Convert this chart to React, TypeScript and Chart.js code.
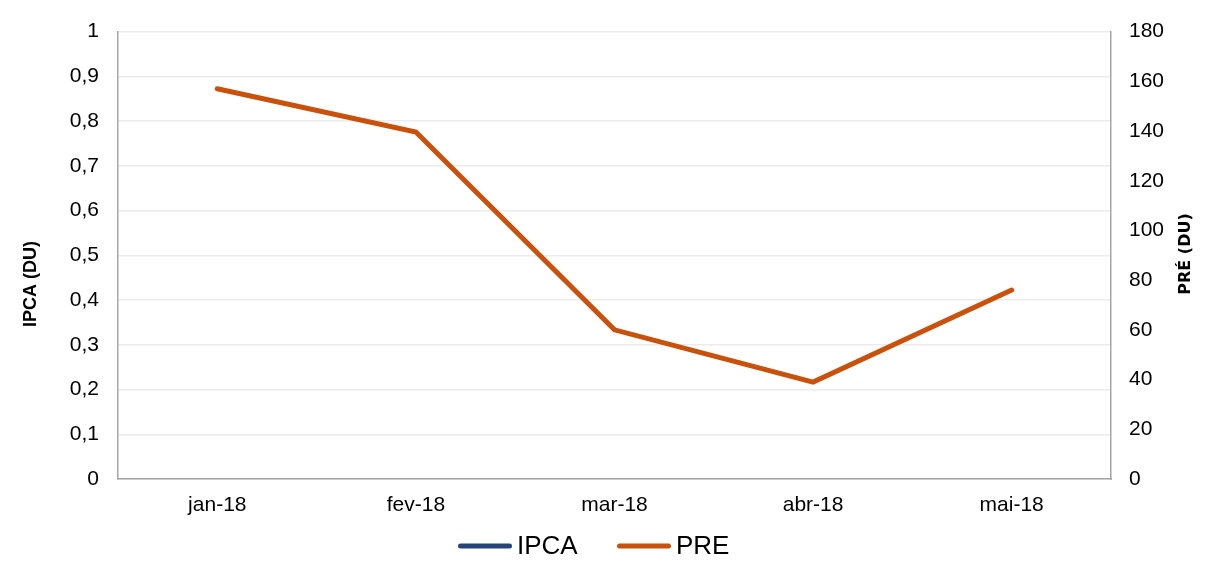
import React, { useEffect, useRef } from "react";
import { Chart, registerables } from "chart.js";

Chart.register(...registerables);

const categories = ["jan-18", "fev-18", "mar-18", "abr-18", "mai-18"];
const ipcaValues: (number | null)[] = [null, null, null, null, null];
const preValues = [157, 139.6, 60, 39, 76];
const leftTicksMax = 1;
const rightTicksMax = 180;
const seriesNames = ["IPCA", "PRE"];
const seriesColors = ["#264478", "#C9510C"];
const leftTitle = "IPCA (DU)";
const rightTitle = "PRÉ (DU)";

const FONT = "'Liberation Sans', Arial, sans-serif";

const customPlugin = {
  id: "customDecor",
  afterDraw(chart: any) {
    const ctx = chart.ctx;
    ctx.save();
    ctx.fillStyle = "#000";
    ctx.textAlign = "center";
    ctx.textBaseline = "middle";
    // left title
    ctx.save();
    ctx.translate(31.5, 284);
    ctx.rotate(-Math.PI / 2);
    ctx.font = `bold 18px ${FONT}`;
    ctx.fillText(leftTitle, 0, 0);
    ctx.restore();
    // right title
    ctx.save();
    ctx.translate(1186, 254);
    ctx.rotate(-Math.PI / 2);
    ctx.font = `bold 16px 'DejaVu Sans', sans-serif`;
    ctx.fillText(rightTitle, 0, 0);
    ctx.restore();
    // legend
    const ly = 546;
    const items = chart.data.datasets.map((d: any) => ({ label: d.label, color: d.borderColor }));
    const starts = [460.5, 619.5];
    ctx.font = `26px ${FONT}`;
    ctx.textAlign = "left";
    items.forEach((it: any, i: number) => {
      const x = starts[i];
      ctx.strokeStyle = it.color;
      ctx.lineWidth = 5;
      ctx.lineCap = "round";
      ctx.beginPath();
      ctx.moveTo(x, ly);
      ctx.lineTo(x + 49, ly);
      ctx.stroke();
      ctx.fillStyle = "#000";
      ctx.fillText(it.label, x + 56.5, ly + 1);
    });
    ctx.restore();
  },
};

export default function App() {
  const ref = useRef<HTMLCanvasElement>(null);
  useEffect(() => {
    if (!ref.current) return;
    const chart = new Chart(ref.current, {
      type: "line",
      data: {
        labels: categories,
        datasets: [
          {
            label: seriesNames[0],
            data: ipcaValues,
            borderColor: seriesColors[0],
            backgroundColor: seriesColors[0],
            borderWidth: 4,
            pointRadius: 0,
            yAxisID: "y",
          },
          {
            label: seriesNames[1],
            data: preValues,
            borderColor: seriesColors[1],
            backgroundColor: seriesColors[1],
            borderWidth: 5,
            pointRadius: 0,
            borderCapStyle: "round",
            borderJoinStyle: "miter",
            tension: 0,
            yAxisID: "y1",
          },
        ],
      },
      options: {
        responsive: false,
        animation: false,
        maintainAspectRatio: false,
        layout: { padding: { top: 29, left: 0, right: 0, bottom: 0 } },
        plugins: {
          legend: { display: false },
          tooltip: { enabled: false },
        },
        scales: {
          x: {
            offset: true,
            grid: { display: false, drawTicks: false },
            border: { display: true, color: "#a6a6a6", width: 1.5 },
            ticks: {
              color: "#000",
              font: { family: FONT, size: 21 },
              padding: 14,
              maxRotation: 0,
            },
            afterFit: (s: any) => {
              s.height = 84;
            },
          },
          y: {
            position: "left",
            min: 0,
            max: leftTicksMax,
            grid: { color: "#ececec", lineWidth: 1.5, drawTicks: false },
            border: { display: true, color: "#a6a6a6", width: 1.5 },
            ticks: {
              stepSize: 0.1,
              color: "#000",
              font: { family: FONT, size: 21 },
              padding: 19,
              callback: (v: any) => String(Math.round(Number(v) * 10) / 10).replace(".", ","),
            },
            afterFit: (s: any) => {
              s.width = 118;
            },
          },
          y1: {
            position: "right",
            min: 0,
            max: rightTicksMax,
            grid: { display: false, drawTicks: false, drawOnChartArea: false },
            border: { display: true, color: "#a6a6a6", width: 1.5 },
            ticks: {
              stepSize: 20,
              color: "#000",
              font: { family: FONT, size: 21 },
              padding: 18,
            },
            afterFit: (s: any) => {
              s.width = 113;
            },
          },
        },
      },
      plugins: [customPlugin],
    });
    return () => chart.destroy();
  }, []);
  return (
    <div style={{ position: "fixed", left: 0, top: 0, width: 1224, height: 563, background: "#fff" }}>
      <canvas ref={ref} width={1224} height={563} style={{ width: 1224, height: 563, display: "block" }} />
    </div>
  );
}
